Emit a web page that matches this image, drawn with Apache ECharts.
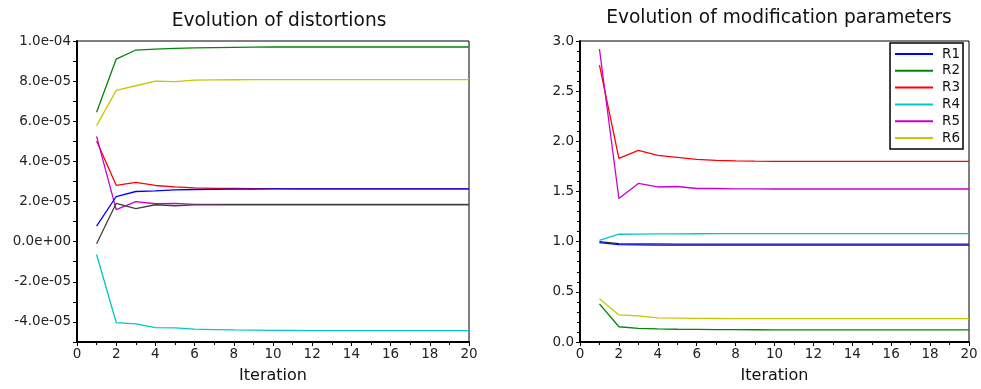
<!DOCTYPE html>
<html>
<head>
<meta charset="utf-8">
<script src="https://cdn.jsdelivr.net/npm/echarts@6/dist/echarts.min.js"></script>
<style>
  html, body { margin: 0; padding: 0; background: #fff; }
  #main { width: 981px; height: 389px; }
</style>
</head>
<body>
<div id="main"></div>
<script>
// iterations (x axis)
const iterations = [1,2,3,4,5,6,7,8,9,10,11,12,13,14,15,16,17,18,19,20];

// left chart: evolution of distortions
const distGreen   = [6.45e-5, 9.1e-5, 9.55e-5, 9.6e-5, 9.63e-5, 9.66e-5, 9.67e-5, 9.68e-5, 9.69e-5, 9.7e-5, 9.7e-5, 9.7e-5, 9.7e-5, 9.7e-5, 9.7e-5, 9.7e-5, 9.7e-5, 9.7e-5, 9.7e-5, 9.7e-5];
const distYellow  = [5.78e-5, 7.54e-5, 7.77e-5, 8.0e-5, 7.98e-5, 8.05e-5, 8.06e-5, 8.07e-5, 8.08e-5, 8.08e-5, 8.08e-5, 8.08e-5, 8.08e-5, 8.08e-5, 8.08e-5, 8.08e-5, 8.08e-5, 8.08e-5, 8.08e-5, 8.08e-5];
const distRed     = [5.02e-5, 2.81e-5, 2.95e-5, 2.8e-5, 2.73e-5, 2.68e-5, 2.66e-5, 2.65e-5, 2.64e-5, 2.64e-5, 2.63e-5, 2.63e-5, 2.63e-5, 2.63e-5, 2.63e-5, 2.63e-5, 2.63e-5, 2.63e-5, 2.63e-5, 2.63e-5];
const distMagenta = [5.25e-5, 1.6e-5, 2.0e-5, 1.89e-5, 1.91e-5, 1.86e-5, 1.86e-5, 1.86e-5, 1.86e-5, 1.86e-5, 1.86e-5, 1.86e-5, 1.86e-5, 1.86e-5, 1.86e-5, 1.86e-5, 1.86e-5, 1.86e-5, 1.86e-5, 1.86e-5];
const distBlue    = [0.77e-5, 2.25e-5, 2.5e-5, 2.53e-5, 2.58e-5, 2.6e-5, 2.61e-5, 2.62e-5, 2.62e-5, 2.63e-5, 2.63e-5, 2.63e-5, 2.63e-5, 2.63e-5, 2.63e-5, 2.63e-5, 2.63e-5, 2.63e-5, 2.63e-5, 2.63e-5];
const distGray    = [-0.1e-5, 1.91e-5, 1.65e-5, 1.84e-5, 1.79e-5, 1.83e-5, 1.83e-5, 1.84e-5, 1.84e-5, 1.84e-5, 1.84e-5, 1.84e-5, 1.84e-5, 1.84e-5, 1.84e-5, 1.84e-5, 1.84e-5, 1.84e-5, 1.84e-5, 1.84e-5];
const distCyan    = [-0.64e-5, -4.03e-5, -4.1e-5, -4.28e-5, -4.3e-5, -4.36e-5, -4.38e-5, -4.4e-5, -4.41e-5, -4.42e-5, -4.42e-5, -4.43e-5, -4.43e-5, -4.43e-5, -4.43e-5, -4.43e-5, -4.43e-5, -4.43e-5, -4.43e-5, -4.43e-5];

// right chart: evolution of modification parameters
const R1 = [0.99, 0.97, 0.968, 0.966, 0.965, 0.965, 0.965, 0.965, 0.965, 0.965, 0.965, 0.965, 0.965, 0.965, 0.965, 0.965, 0.965, 0.965, 0.965, 0.965];
const R2 = [0.38, 0.152, 0.136, 0.13, 0.127, 0.125, 0.124, 0.123, 0.122, 0.121, 0.12, 0.12, 0.12, 0.12, 0.12, 0.12, 0.12, 0.12, 0.12, 0.12];
const R3 = [2.76, 1.83, 1.91, 1.86, 1.84, 1.82, 1.81, 1.806, 1.803, 1.801, 1.8, 1.8, 1.8, 1.8, 1.8, 1.8, 1.8, 1.8, 1.8, 1.8];
const R4 = [1.014, 1.074, 1.075, 1.077, 1.078, 1.079, 1.08, 1.08, 1.08, 1.08, 1.08, 1.08, 1.08, 1.08, 1.08, 1.08, 1.08, 1.08, 1.08, 1.08];
const R5 = [2.92, 1.43, 1.58, 1.545, 1.55, 1.53, 1.53, 1.527, 1.526, 1.525, 1.525, 1.525, 1.525, 1.525, 1.525, 1.525, 1.525, 1.525, 1.525, 1.525];
const R6 = [0.43, 0.27, 0.26, 0.24, 0.238, 0.235, 0.234, 0.233, 0.232, 0.232, 0.232, 0.232, 0.232, 0.232, 0.232, 0.232, 0.232, 0.232, 0.232, 0.232];
const R7 = [1.0, 0.98, 0.978, 0.977, 0.976, 0.975, 0.975, 0.975, 0.975, 0.975, 0.975, 0.975, 0.975, 0.975, 0.975, 0.975, 0.975, 0.975, 0.975, 0.975];

const xTicks = [0,2,4,6,8,10,12,14,16,18,20];

const FONT = 'DejaVu Sans';
const pairs = (arr) => iterations.map((x, i) => [x, arr[i]]);

function sciLabel(v) {
    const k = Math.round(v / 1e-5);
    if (k % 2 !== 0) return '';
    if (k === 0) return '0.0e+00';
    let s = (k * 1e-5).toExponential(1);
    return s.replace(/e([+-])(\d)$/, 'e$10$2');
}

function line(name, data, color, xi) {
    return {
        name: name, type: 'line', xAxisIndex: xi, yAxisIndex: xi,
        data: pairs(data), showSymbol: false, symbol: 'none',
        lineStyle: { color: color, width: 1.3 }, itemStyle: { color: color },
        animation: false
    };
}

const xAxisBase = {
    type: 'value', min: 0, max: 20, interval: 2,
    name: 'Iteration', nameLocation: 'middle', nameGap: 26,
    nameTextStyle: { fontFamily: FONT, fontSize: 16, color: '#111' },
    axisLine: { onZero: false, lineStyle: { color: '#000', width: 2 } },
    axisTick: { length: 4, lineStyle: { color: '#000' } },
    minorTick: { show: true, splitNumber: 2, length: 3, lineStyle: { color: '#000' } },
    axisLabel: { fontFamily: FONT, fontSize: 13.5, color: '#222', margin: 5,
        formatter: (v) => xTicks.indexOf(v) >= 0 ? String(v) : '' },
    splitLine: { show: false }
};

let myChart = echarts.init(document.getElementById('main'));
myChart.setOption({
    backgroundColor: '#fff',
    title: [
        { text: 'Evolution of distortions', left: 274, top: 7, textAlign: 'center',
          textStyle: { fontFamily: FONT, fontSize: 18.6, fontWeight: 'normal', color: '#111' } },
        { text: 'Evolution of modification parameters', left: 774, top: 4, textAlign: 'center',
          textStyle: { fontFamily: FONT, fontSize: 18.6, fontWeight: 'normal', color: '#111' } }
    ],
    legend: {
        data: ['R1','R2','R3','R4','R5','R6'],
        orient: 'vertical', right: 18, top: 43,
        icon: 'rect', itemWidth: 38, itemHeight: 2, itemGap: 0.8,
        backgroundColor: '#fff', borderColor: '#000', borderWidth: 1.5,
        padding: [3, 3, 3, 5],
        textStyle: { fontFamily: FONT, fontSize: 13.5, color: '#111', lineHeight: 16, padding: [0, 0, 0, 4] }
    },
    grid: [
        { left: 77, right: 512, top: 41, bottom: 46, show: true, borderColor: '#000', borderWidth: 1, backgroundColor: '#fff' },
        { left: 580, right: 12, top: 41, bottom: 46, show: true, borderColor: '#000', borderWidth: 1, backgroundColor: '#fff' }
    ],
    xAxis: [
        Object.assign({}, xAxisBase, { gridIndex: 0 }),
        Object.assign({}, xAxisBase, { gridIndex: 1 })
    ],
    yAxis: [
        {
            gridIndex: 0, type: 'value', min: -5e-5, max: 1e-4, interval: 1e-5,
            axisLine: { show: true, onZero: false, lineStyle: { color: '#000', width: 2 } },
            axisTick: { show: true, length: 4, lineStyle: { color: '#000' } },
            axisLabel: { fontFamily: FONT, fontSize: 13.5, color: '#222', margin: 6, formatter: sciLabel },
            splitLine: { show: false }
        },
        {
            gridIndex: 1, type: 'value', min: 0, max: 3, interval: 0.5,
            axisLine: { show: true, onZero: false, lineStyle: { color: '#000', width: 2 } },
            axisTick: { show: true, length: 4, lineStyle: { color: '#000' } },
            minorTick: { show: true, splitNumber: 5, length: 3, lineStyle: { color: '#000' } },
            axisLabel: { fontFamily: FONT, fontSize: 13.5, color: '#222', margin: 6, formatter: (v) => v.toFixed(1) },
            splitLine: { show: false }
        }
    ],
    animation: false,
    series: [
        line('d_green', distGreen, '#008800', 0),
        line('d_yellow', distYellow, '#c8c800', 0),
        line('d_red', distRed, '#ff0000', 0),
        line('d_magenta', distMagenta, '#cc00cc', 0),
        line('d_blue', distBlue, '#0000ff', 0),
        line('d_gray', distGray, '#404040', 0),
        line('d_cyan', distCyan, '#00c8c8', 0),
        line('R7', R7, '#303030', 1),
        line('R1', R1, '#0000ff', 1),
        line('R2', R2, '#008800', 1),
        line('R3', R3, '#ff0000', 1),
        line('R4', R4, '#00c8c8', 1),
        line('R5', R5, '#cc00cc', 1),
        line('R6', R6, '#c8c800', 1)
    ]
});
</script>
</body>
</html>
